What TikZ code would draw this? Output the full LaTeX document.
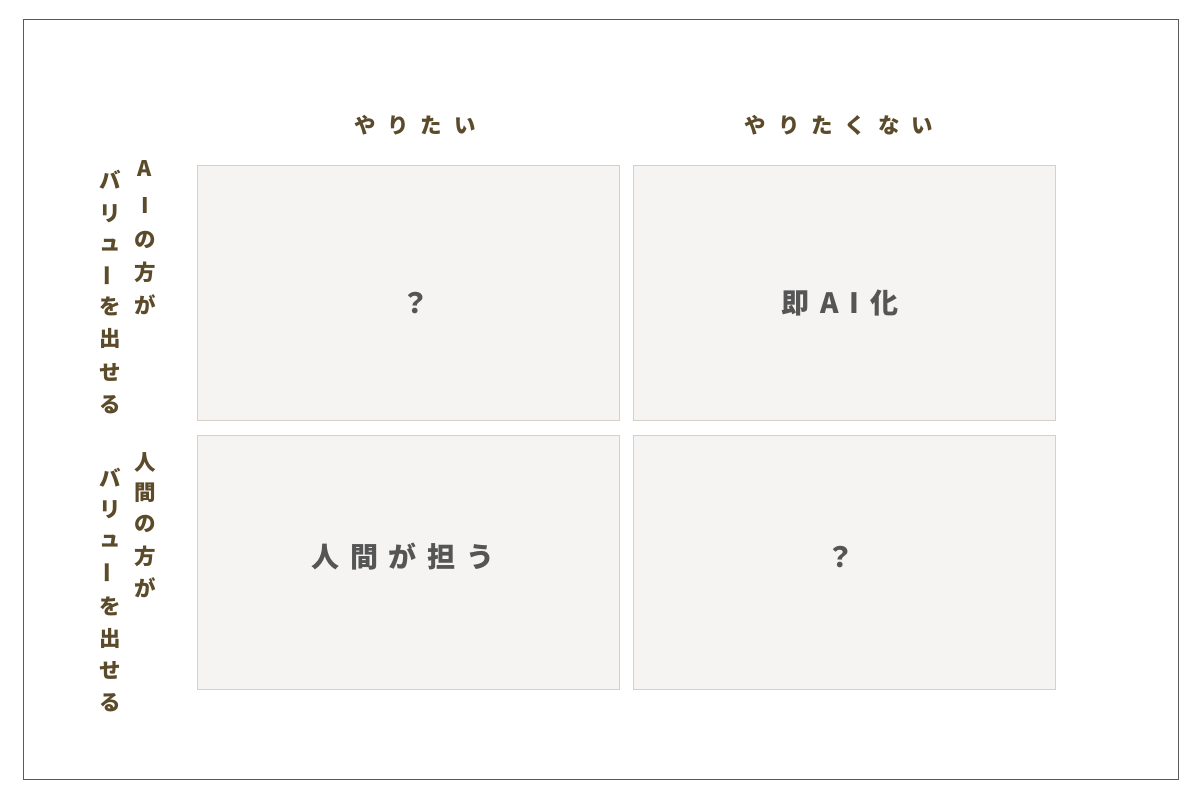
\documentclass[tikz,border=0pt]{standalone}
\usepackage{fontspec}
\setmainfont{Noto Sans CJK JP}
\newfontfamily\jp{Noto Sans CJK JP}
\definecolor{labelc}{HTML}{5C4B2B}
\definecolor{textc}{HTML}{555555}
\definecolor{boxfill}{HTML}{F5F4F2}
\definecolor{boxline}{HTML}{D6D1C6}
\definecolor{framec}{HTML}{5A5A5A}
\tikzset{
  quad/.style={draw=boxline, fill=boxfill, line width=0.9pt},
  toplabel/.style={text=labelc, font=\jp\bfseries\fontsize{21.5}{21.5}\selectfont\addfontfeatures{LetterSpace=55}, inner sep=0pt},
  vchar/.style={text=labelc, font=\jp\bfseries\fontsize{21.5}{21.5}\selectfont, inner sep=0pt},
  boxtext/.style={text=textc, font=\jp\bfseries\fontsize{28}{28}\selectfont\addfontfeatures{LetterSpace=38}, inner sep=0pt},
}
\begin{document}
\begin{tikzpicture}[x=1pt,y=-1pt]
\useasboundingbox (0,0) rectangle (1200,800);
\draw[framec, line width=1pt] (23,20) rectangle (1178,779);
% quadrants
\draw[quad] (197,165) rectangle (619,420);
\draw[quad] (633,165) rectangle (1055,420);
\draw[quad] (197,435) rectangle (619,689);
\draw[quad] (633,435) rectangle (1055,689);
\node[boxtext] (q1) at (415,303) {？};
\node[boxtext] (q2) at (840,303) {即AI化};
\node[boxtext] (q3) at (403,557) {人間が担う};
\node[boxtext] (q4) at (840,557) {？};
% top labels
\node[toplabel] (t1) at (415,125) {やりたい};
\node[toplabel] (t2) at (839,125) {やりたくない};
% vertical labels
\foreach \c/\yy [count=\i] in {A/168,I/205,の/240,方/272,が/305}
  \node[vchar] (a\i) at (145,\yy) {\c};
\foreach \c/\yy [count=\i] in {バ/180,リ/214,ュ/245,ー/276,を/306,出/338,せ/372,る/405}
  \node[vchar] (b\i) at (110,\yy) {\ifnum\i=4 \rotatebox{90}{\c}\else\c\fi};
\foreach \c/\yy [count=\i] in {人/462,間/493,の/524,方/556,が/588}
  \node[vchar] (c\i) at (145,\yy) {\c};
\foreach \c/\yy [count=\i] in {バ/478,リ/510,ュ/541,ー/573,を/606,出/638,せ/670,る/703}
  \node[vchar] (d\i) at (110,\yy) {\ifnum\i=4 \rotatebox{90}{\c}\else\c\fi};
\end{tikzpicture}
\end{document}
